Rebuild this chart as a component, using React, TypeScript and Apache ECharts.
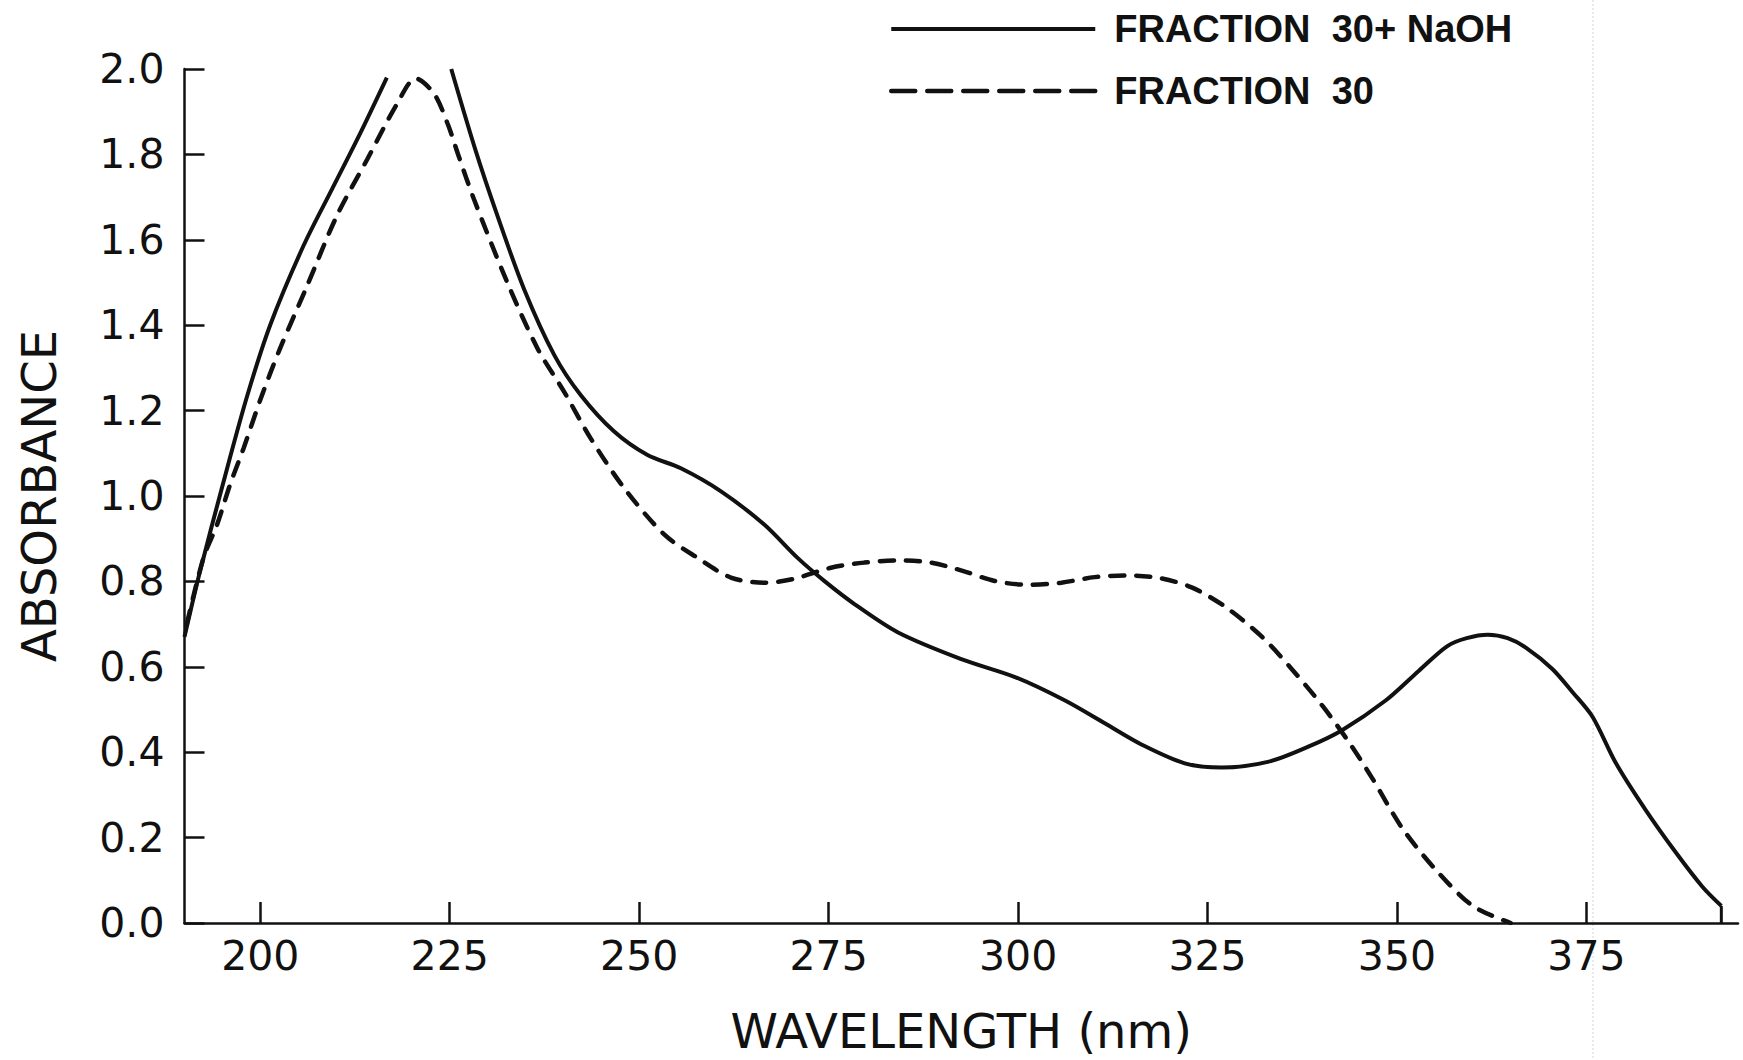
import React, { useEffect, useRef } from "react";
import * as echarts from "echarts";

// Tick labels
const X_TICKS = [200, 225, 250, 275, 300, 325, 350, 375];

// FRACTION 30 + NaOH (solid) — goes off scale above 2.0 between the two parts
const naohX1 = [190.0, 192.0, 195.1, 198.2, 201.3, 205.7, 209.5, 213.2, 216.7];
const naohY1 = [0.67, 0.82, 1.03, 1.23, 1.40, 1.586, 1.72, 1.85, 1.98];
const naohX2 = [225.2, 228.4, 231.3, 234.8, 238.8, 242.3, 246.7, 251.1, 255.5, 260.8, 266.5, 270.9, 274.5, 278.4, 284.1, 292.5, 299.6, 306.2, 311.5, 316.4, 322.0, 326.9, 333.1, 338.3, 342.7, 348.5, 352.9, 356.6, 359.2, 362.0, 364.6, 367.0, 370.5, 373.2, 375.8, 378.9, 382.8, 386.8, 390.3, 392.8];
const naohY2 = [2.0, 1.81, 1.656, 1.485, 1.33, 1.236, 1.151, 1.096, 1.065, 1.011, 0.933, 0.855, 0.80, 0.747, 0.681, 0.618, 0.576, 0.521, 0.467, 0.417, 0.374, 0.364, 0.378, 0.413, 0.451, 0.521, 0.591, 0.648, 0.667, 0.675, 0.667, 0.645, 0.595, 0.54, 0.483, 0.374, 0.265, 0.165, 0.085, 0.04];
// end drop of the solid trace
const naohEndX = [392.8, 392.8];
const naohEndY = [0.04, 0.0];

// FRACTION 30 (dashed)
const fracX = [190.3, 192.5, 194.3, 196.0, 197.8, 200.1, 202.6, 206.2, 210.1, 214.1, 218.1, 220.5, 222.9, 224.7, 226.2, 228.2, 232.6, 236.6, 240.1, 243.6, 248.0, 253.3, 257.7, 262.1, 266.5, 270.2, 275.3, 279.7, 284.1, 288.5, 293.0, 296.9, 301.3, 305.7, 310.1, 314.5, 318.9, 322.9, 327.3, 332.2, 336.1, 340.1, 343.6, 346.7, 350.7, 355.1, 360.0, 365.0];
const fracY = [0.70, 0.855, 0.933, 1.026, 1.112, 1.23, 1.345, 1.493, 1.656, 1.788, 1.92, 1.978, 1.943, 1.873, 1.795, 1.695, 1.50, 1.345, 1.244, 1.135, 1.019, 0.91, 0.855, 0.809, 0.797, 0.805, 0.832, 0.844, 0.849, 0.844, 0.823, 0.801, 0.792, 0.797, 0.810, 0.814, 0.807, 0.786, 0.741, 0.67, 0.595, 0.51, 0.425, 0.34, 0.222, 0.125, 0.040, 0.0];

const NAME_NAOH = "FRACTION  30+ NaOH";
const NAME_FRAC = "FRACTION  30";

const zip = (xs: number[], ys: number[]) => xs.map((x, i) => [x, ys[i]]);

const INK = "#111111";
const TICK_FONT = "DejaVu Sans";

export default function App() {
  const ref = useRef<HTMLDivElement>(null);

  useEffect(() => {
    const chart = echarts.init(ref.current!, null, { renderer: "svg" });

    const naohData: any[] = [
      ...zip(naohX1, naohY1),
      [221, "-"],
      ...zip(naohX2, naohY2),
    ];

    const option: any = {
      animation: false,
      backgroundColor: "#ffffff",
      grid: { left: 184.5, right: 5, top: 69, bottom: 133, containLabel: false },
      legend: {
        orient: "vertical",
        left: 889,
        top: 10,
        padding: 0,
        itemWidth: 204,
        itemHeight: 38,
        itemGap: 24,
        selectedMode: false,
        itemStyle: { color: "transparent", borderWidth: 0, opacity: 0 },
        data: [
          { name: NAME_NAOH, lineStyle: { width: 4 } },
          { name: NAME_FRAC, lineStyle: { type: [24, 12], width: 4.5, cap: "round" } },
        ],
        textStyle: {
          fontFamily: "Liberation Sans",
          fontWeight: "bold",
          fontSize: 38,
          color: INK,
          padding: [0, 0, 0, 14],
        },
      },
      xAxis: {
        type: "value",
        min: 190,
        max: 395,
        name: "WAVELENGTH (nm)",
        nameLocation: "middle",
        nameGap: 84,
        nameTextStyle: { fontFamily: TICK_FONT, fontSize: 48, color: INK },
        axisLine: { show: true, onZero: false, lineStyle: { color: INK, width: 2.5 } },
        axisTick: { show: true, inside: true, length: 21, customValues: X_TICKS, lineStyle: { color: INK, width: 2.5 } },
        axisLabel: {
          show: true,
          customValues: X_TICKS,
          margin: 12,
          fontFamily: TICK_FONT,
          fontSize: 41,
          color: INK,
        },
        splitLine: { show: false },
      },
      yAxis: {
        type: "value",
        min: 0,
        max: 2,
        interval: 0.2,
        name: "ABSORBANCE",
        nameLocation: "middle",
        nameGap: 122,
        nameTextStyle: { fontFamily: TICK_FONT, fontSize: 48, color: INK },
        axisLine: { show: true, lineStyle: { color: INK, width: 2.5 } },
        axisTick: { show: true, inside: true, length: 20, lineStyle: { color: INK, width: 2.5 } },
        axisLabel: {
          margin: 20,
          fontFamily: TICK_FONT,
          fontSize: 41,
          color: INK,
          formatter: (v: number) => v.toFixed(1),
        },
        splitLine: { show: false },
      },
      series: [
        {
          name: NAME_NAOH,
          type: "line",
          data: naohData,
          smooth: 0.3,
          symbol: "none",
          connectNulls: false,
          clip: true,
          lineStyle: { color: INK, width: 4 },
          itemStyle: { color: INK },
        },
        {
          name: NAME_FRAC,
          type: "line",
          data: zip(fracX, fracY),
          smooth: 0.3,
          symbol: "none",
          clip: true,
          lineStyle: { color: INK, width: 4.5, type: [14, 12], cap: "round" },
          itemStyle: { color: INK },
        },
        {
          name: NAME_NAOH,
          type: "line",
          data: zip(naohEndX, naohEndY),
          symbol: "none",
          clip: false,
          lineStyle: { color: INK, width: 3 },
          itemStyle: { color: INK },
        },
      ],
      graphic: [
        {
          type: "line",
          silent: true,
          shape: { x1: 1593, y1: 0, x2: 1593, y2: 1060 },
          style: { stroke: "#d4d4d4", lineWidth: 1, lineDash: [2, 2] },
          z: -1,
        },
      ],
    };

    chart.setOption(option);
    return () => chart.dispose();
  }, []);

  return (
    <div
      ref={ref}
      style={{ position: "fixed", left: 0, top: 0, width: 1743, height: 1060, background: "#fff" }}
    />
  );
}
